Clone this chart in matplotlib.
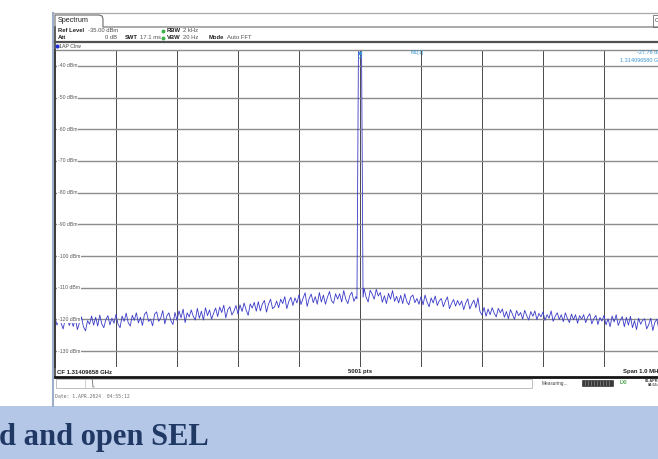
import numpy as np
import matplotlib.pyplot as plt
from matplotlib.patches import Rectangle
from matplotlib.transforms import blended_transform_factory

W, H = 658, 459

# analyzer settings
ref_level = -35.0
range_db = 100.0
span_khz = 1000.0
y_ticks = [-40, -50, -60, -70, -80, -90, -100, -110, -120, -130]
x_ticks = [-400, -300, -200, -100, 0, 100, 200, 300, 400]

# trace 1 (dBm), 301 points across the span
noise_dbm = [
    -119.4, -121.8, -119.0, -121.2, -123.0, -120.0, -118.9, -121.9, -120.3, -122.2,
    -119.6, -123.2, -121.1, -119.2, -122.3, -123.6, -120.4, -121.5, -118.9, -121.8,
    -119.3, -122.1, -118.6, -121.4, -122.6, -120.1, -118.8, -121.7, -119.6, -121.2,
    -118.4, -121.5, -122.6, -118.9, -120.6, -118.0, -121.0, -122.1, -118.7, -120.3,
    -117.9, -121.1, -119.3, -121.9, -118.4, -117.6, -120.6, -119.9, -122.0, -118.3,
    -117.6, -120.6, -119.5, -117.2, -121.4, -118.9, -117.9, -120.4, -121.6, -117.8,
    -120.3, -117.3, -119.5, -116.7, -121.0, -117.9, -119.2, -117.0, -119.0, -120.2,
    -116.5, -119.6, -117.4, -120.2, -116.3, -118.8, -117.0, -119.9, -118.0, -116.4,
    -119.1, -116.1, -117.8, -115.5, -119.5, -116.9, -116.0, -118.6, -117.4, -115.6,
    -118.3, -115.4, -117.5, -114.8, -117.0, -118.7, -115.1, -116.4, -114.6, -117.4,
    -114.4, -117.3, -115.1, -114.0, -117.7, -115.2, -113.6, -116.6, -116.0, -114.2,
    -116.3, -113.6, -115.0, -112.8, -116.6, -114.3, -113.0, -115.6, -113.2, -114.8,
    -112.2, -115.3, -113.3, -111.6, -115.9, -113.4, -112.0, -114.7, -112.8, -115.2,
    -111.5, -114.5, -112.3, -115.2, -113.0, -111.2, -114.1, -114.9, -111.9, -113.6,
    -111.9, -114.5, -110.9, -113.6, -115.0, -112.5, -111.4, -114.3, -112.8, -113.8,
    -111.4, -114.1, -110.2, -113.0, -114.5, -110.8, -112.0, -113.6, -110.5, -112.6,
    -111.5, -114.6, -112.5, -115.0, -111.8, -113.6, -110.9, -114.3, -112.7, -114.8,
    -112.4, -115.0, -111.9, -114.3, -115.4, -112.9, -112.3, -114.7, -113.4, -115.2,
    -112.8, -115.4, -112.3, -114.5, -116.0, -113.2, -114.8, -112.6, -115.6, -114.1,
    -113.4, -116.0, -114.2, -112.9, -116.6, -115.0, -113.7, -115.8, -114.0, -115.5,
    -114.2, -116.9, -114.8, -113.5, -116.7, -115.1, -113.9, -116.3, -113.2, -117.5,
    -118.6, -116.2, -119.0, -116.7, -118.5, -116.3, -118.0, -119.2, -116.5, -117.9,
    -116.7, -119.3, -117.5, -119.8, -116.9, -118.4, -120.0, -117.2, -118.8, -117.8,
    -119.9, -117.1, -118.8, -120.2, -117.5, -119.0, -117.3, -120.1, -118.1, -119.2,
    -117.6, -120.3, -118.5, -119.6, -117.3, -120.6, -119.0, -117.9, -120.0, -118.5,
    -120.7, -117.9, -119.7, -121.0, -118.3, -120.1, -118.5, -121.2, -118.8, -119.9,
    -118.5, -121.0, -119.2, -118.2, -121.4, -119.8, -118.7, -121.6, -119.4, -120.5,
    -118.7, -121.7, -119.8, -122.3, -118.9, -120.8, -118.5, -121.9, -120.2, -119.1,
    -122.3, -119.3, -121.8, -119.0, -122.6, -120.4, -123.2, -119.6, -121.5, -120.3,
    -119.8, -123.0, -121.6, -119.6, -123.5, -120.9, -119.9, -123.2, -121.9, -120.6,
    -121.8,
]

# carrier lobe around the centre frequency (offset kHz, dBm)
carrier_offset_khz = [-5.0, -2.5, 0.0, 2.5, 5.0]
carrier_dbm = [-113.5, -33.0, -27.76, -33.0, -113.0]

freq = np.linspace(-span_khz / 2, span_khz / 2, len(noise_dbm))
noise = np.array(noise_dbm)
keep = np.abs(freq) > 5.5
trace_f = np.concatenate([freq[keep], carrier_offset_khz])
trace_y = np.concatenate([noise[keep], carrier_dbm])
order = np.argsort(trace_f)
trace_f, trace_y = trace_f[order], trace_y[order]

sans = 'Liberation Sans'
marker_blue = '#3a96d2'

fig = plt.figure(figsize=(W / 100, H / 100), dpi=100)
fig.patch.set_facecolor('white')

# diagram area
ax = fig.add_axes([55 / W, 1 - 367 / H, 610 / W, 317 / H])
ax.set_xlim(-span_khz / 2, span_khz / 2)
ax.set_ylim(ref_level - range_db, ref_level)
ax.set_xticks(x_ticks)
ax.set_yticks(y_ticks)
ax.tick_params(length=0, labelbottom=False, labelleft=False)
ax.grid(axis='x', color='#4a4a4a', lw=0.7)
ax.grid(axis='y', color='#8c8c8c', lw=1.0)
ax.set_axisbelow(True)
for side in ['right', 'bottom']:
    ax.spines[side].set_visible(False)
ax.spines['left'].set_color('#303030')
ax.spines['left'].set_linewidth(1.4)
ax.spines['top'].set_color('#8c8c8c')
ax.spines['top'].set_linewidth(1.0)

lbl_tr = blended_transform_factory(ax.transAxes, ax.transData)
for v in y_ticks:
    ax.text(0.005, v, f'{v} dBm', transform=lbl_tr, fontsize=3.7, family=sans,
            color='#5a5a5a', ha='left', va='center',
            bbox=dict(fc='white', ec='none', pad=0.4))

ax.plot(trace_f, trace_y, color='#3a3ac8', lw=0.6)

# marker M1 on the carrier
ax.plot([0], [-36.0], marker='s', ms=2.0, color=marker_blue, clip_on=False)
ax.text(0, -37.6, 'M1', fontsize=2.6, family=sans, color=marker_blue,
        ha='center', va='center')

# surrounding instrument panel, drawn in pixel units
ui = fig.add_axes([0, 0, 1, 1])
ui.set_xlim(0, W)
ui.set_ylim(H, 0)
ui.axis('off')
ui.patch.set_alpha(0)

ui.add_patch(Rectangle((0, 406), W, H - 406, fc='#b4c7e7', ec='none'))
ui.plot([53, 53], [13, 406], color='#9eaecb', lw=1.5)
ui.plot([53, W], [13, 13], color='#a8a8a8', lw=0.9)
ui.plot([55, 55], [27, 376], color='#404040', lw=1.2)

# "Spectrum" tab
tab_x = [55, 55, 99, 102, 103, 103, W]
tab_y = [27, 15, 15, 16, 19, 27, 27]
ui.plot(tab_x, tab_y, color='#6a6a6a', lw=0.8)
ui.text(58, 21, 'Spectrum', fontsize=5.2, family=sans, color='#202020',
        ha='left', va='center')
ui.add_patch(Rectangle((653, 15), 8, 12, fc='white', ec='#707070', lw=0.6))
ui.text(655, 21, 'C', fontsize=4, family=sans, color='#303030', va='center')

# header rows
hdr = dict(fontsize=4.2, family=sans, va='center', ha='left')
ui.text(58, 30.5, 'Ref Level', weight='bold', color='#202020', **hdr)
ui.text(88, 30.5, '-35.00 dBm', color='#505050', **hdr)
ui.text(58, 37.5, 'Att', weight='bold', color='#202020', **hdr)
ui.text(105, 37.5, '0 dB', color='#505050', **hdr)
ui.text(125, 37.5, 'SWT', weight='bold', color='#202020', **hdr)
ui.text(140, 37.5, '17.1 ms', color='#505050', **hdr)
ui.plot([163, 163], [30.5, 37.5], ls='none', marker='o', ms=1.8,
        color='#3fb14a')
ui.text(167, 30.5, 'RBW', weight='bold', color='#202020', **hdr)
ui.text(183, 30.5, '2 kHz', color='#505050', **hdr)
ui.text(167, 37.5, 'VBW', weight='bold', color='#202020', **hdr)
ui.text(183, 37.5, '20 Hz', color='#505050', **hdr)
ui.text(209, 37.5, 'Mode', weight='bold', color='#202020', **hdr)
ui.text(227, 37.5, 'Auto FFT', color='#505050', **hdr)

ui.plot([55, W], [42, 42], color='#505050', lw=1.6)
ui.plot([57], [46], marker='o', ms=2.0, color='#1f2fd0')
ui.text(59, 46, '1AP Clrw', fontsize=3.8, family=sans, color='#404040',
        ha='left', va='center')

# marker readout
ui.text(411, 52.5, 'M1[1]', fontsize=3.8, family=sans, color=marker_blue,
        ha='left', va='center')
ui.text(665, 52.5, f'{carrier_dbm[2]:.2f} dBm', fontsize=4.0, family=sans,
        color=marker_blue, ha='right', va='center')
ui.text(665, 60, '1.314096580 GHz', fontsize=4.0, family=sans,
        color=marker_blue, ha='right', va='center')

# footer of the diagram
ftr = dict(fontsize=4.3, family=sans, weight='bold', color='#202020',
           va='center', ha='left')
ui.text(57, 372, 'CF 1.31409658 GHz', **ftr)
ui.text(348, 372, '5001 pts', **ftr)
ui.text(623, 372, 'Span 1.0 MHz', **ftr)
ui.plot([55, W], [376.5, 376.5], color='#151515', lw=2.0)

# status bar
ui.add_patch(Rectangle((56, 378.5), 476, 9, fc='white', ec='#b5b5b5', lw=0.6))
ui.plot([85, 85], [378.5, 387.5], color='#c8c8c8', lw=0.6)
ui.plot([92, 92.5, 93, 94], [379, 381, 387, 387], color='#707070', lw=0.6)
ui.text(542, 383, 'Measuring...', fontsize=3.4, family=sans, color='#404040',
        ha='left', va='center')
ui.add_patch(Rectangle((582, 380), 31, 6, fc='#3a3a3a', ec='#202020', lw=0.4))
for xs in range(585, 612, 3):
    ui.plot([xs, xs], [381, 385], color='#8a8a8a', lw=0.5)
ui.text(620, 383, 'LXI', fontsize=3.4, family=sans, weight='bold',
        color='#3a9a3a', ha='left', va='center')
ui.text(645, 381, '01.APR.2024', fontsize=2.8, family=sans, weight='bold',
        color='#404040', ha='left', va='center')
ui.text(648, 385.5, '04:55:12', fontsize=2.8, family=sans, weight='bold',
        color='#404040', ha='left', va='center')

ui.text(55, 397, 'Date: 1.APR.2024  04:55:12', fontsize=3.5,
        family='DejaVu Sans Mono', color='#707070', ha='left', va='center')

# slide caption
ui.text(-1, 438, 'd and open SEL', fontsize=22, family='Liberation Serif',
        weight='bold', color='#1f3864', ha='left', va='center')

fig.savefig('out.png', dpi=100)
